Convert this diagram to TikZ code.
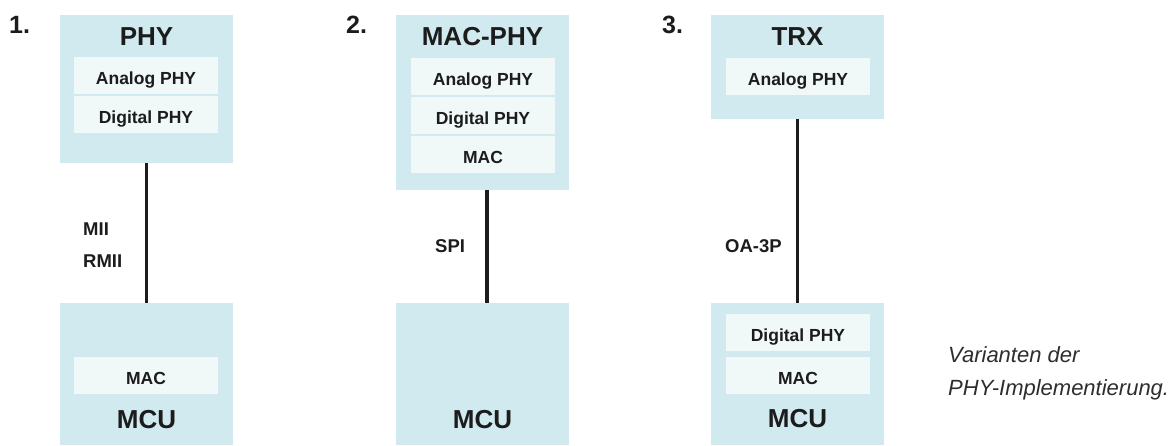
\documentclass[tikz,border=0pt]{standalone}
\usepackage{fontspec}
\setmainfont{Liberation Sans}
\definecolor{boxblue}{RGB}{209,234,239}
\definecolor{innerbox}{RGB}{240,248,248}
\definecolor{ink}{RGB}{28,28,28}
\definecolor{capgray}{RGB}{45,45,45}
\begin{document}
\begin{tikzpicture}[x=1pt,y=-1pt,
  outerbox/.style={rectangle,fill=boxblue,draw=none,minimum width=173pt,inner sep=0pt},
  innerbx/.style={rectangle,fill=innerbox,draw=none,minimum width=144pt,minimum height=37pt,inner sep=0pt,
    text=ink,font=\fontsize{17.5}{20}\selectfont\bfseries,text height=17pt,text depth=0pt},
  titletext/.style={anchor=base,text=ink,inner sep=0pt,font=\fontsize{26}{30}\selectfont\bfseries},
  numtext/.style={anchor=base west,text=ink,inner sep=0pt,font=\fontsize{25}{28}\selectfont\bfseries},
  ifacetext/.style={anchor=base west,text=ink,inner sep=0pt,font=\fontsize{18.5}{20}\selectfont\bfseries},
  captext/.style={anchor=base west,inner sep=0pt,text=capgray,font=\fontsize{22}{26}\selectfont\itshape},
  link/.style={draw=ink,line width=3.6pt}
]
\useasboundingbox (0,0) rectangle (1175,445);

% ---------- Variant 1 ----------
\node[numtext] (n1) at (9,33) {1.};
\node[outerbox,minimum height=148pt] (top1) at (146.5,89) {};
\node[titletext] (t1) at (146.5,45) {PHY};
\node[innerbx] (a1) at (146,75.5) {Analog PHY};
\node[innerbx] (d1) at (146,114.5) {Digital PHY};
\node[outerbox,minimum height=142pt] (mcu1) at (146.5,374) {};
\node[innerbx] (m1) at (146,375.5) {MAC};
\node[titletext] (u1) at (146.5,428) {MCU};
\draw[link] (top1.south) -- (mcu1.north);
\node[ifacetext] (mii) at (83,235) {MII};
\node[ifacetext] (rmii) at (83,267) {RMII};

% ---------- Variant 2 ----------
\node[numtext] (n2) at (346,33) {2.};
\node[outerbox,minimum height=175pt] (top2) at (482.5,102.5) {};
\node[titletext] (t2) at (482.5,45) {MAC-PHY};
\node[innerbx] (a2) at (483,76.5) {Analog PHY};
\node[innerbx] (d2) at (483,115.5) {Digital PHY};
\node[innerbx] (m2) at (483,154.5) {MAC};
\node[outerbox,minimum height=142pt] (mcu2) at (482.5,374) {};
\node[titletext] (u2) at (482.5,428) {MCU};
\draw[link] ([xshift=4.5pt]top2.south) -- ([xshift=4.5pt]mcu2.north);
\node[ifacetext] (spi) at (435,252) {SPI};

% ---------- Variant 3 ----------
\node[numtext] (n3) at (662,33) {3.};
\node[outerbox,minimum height=104pt] (top3) at (797.5,67) {};
\node[titletext] (t3) at (797.5,45) {TRX};
\node[innerbx] (a3) at (798,76.5) {Analog PHY};
\node[outerbox,minimum height=142pt] (mcu3) at (797.5,374) {};
\node[innerbx] (d3) at (798,332.5) {Digital PHY};
\node[innerbx] (m3) at (798,375.5) {MAC};
\node[titletext] (u3) at (797.5,427) {MCU};
\draw[link] (top3.south) -- (mcu3.north);
\node[ifacetext] (oa) at (725,252) {OA-3P};

% ---------- Caption ----------
\node[captext] (cap1) at (948,362) {Varianten der};
\node[captext] (cap2) at (948,395) {PHY-Implementierung.};
\end{tikzpicture}
\end{document}
